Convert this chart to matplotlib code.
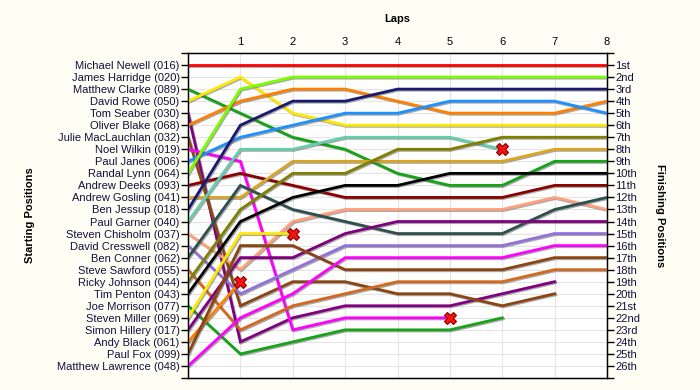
import matplotlib.pyplot as plt
import matplotlib.patheffects as pe

# pilotos en orden de salida (posicion 1..26)
pilotos = [
    "Michael Newell (016)", "James Harridge (020)", "Matthew Clarke (089)",
    "David Rowe (050)", "Tom Seaber (030)", "Oliver Blake (068)",
    "Julie MacLauchlan (032)", "Noel Wilkin (019)", "Paul Janes (006)",
    "Randal Lynn (064)", "Andrew Deeks (093)", "Andrew Gosling (041)",
    "Ben Jessup (018)", "Paul Garner (040)", "Steven Chisholm (037)",
    "David Cresswell (082)", "Ben Conner (062)", "Steve Sawford (055)",
    "Ricky Johnson (044)", "Tim Penton (043)", "Joe Morrison (077)",
    "Steven Miller (069)", "Simon Hillery (017)", "Andy Black (061)",
    "Paul Fox (099)", "Matthew Lawrence (048)",
]

# posicion en cada vuelta (vuelta 0 = salida); lista vacia = no tomo la salida
posiciones = [
    [1, 1, 1, 1, 1, 1, 1, 1, 1],
    [],
    [3, 5, 7, 8, 10, 11, 11, 9, 9],
    [4, 2, 5, 6, 6, 6, 6, 6, 6],
    [5, 24, 22, 21, 21, 21, 20, 19],
    [6, 4, 3, 3, 4, 5, 5, 5, 4],
    [7, 21, 19, 19, 20, 20, 21, 20],
    [8, 9, 23, 22, 22, 22],
    [9, 7, 6, 5, 5, 4, 4, 4, 5],
    [10, 3, 2, 2, 2, 2, 2, 2, 2],
    [11, 10, 11, 12, 12, 12, 12, 11, 11],
    [12, 12, 9, 9, 9, 9, 9, 8, 8],
    [13, 6, 4, 4, 3, 3, 3, 3, 3],
    [14, 8, 8, 7, 7, 7, 8],
    [15, 18, 14, 13, 13, 13, 13, 12, 13],
    [16, 20, 18, 16, 16, 16, 16, 15, 15],
    [17, 11, 13, 14, 15, 15, 15, 13, 12],
    [18, 23, 21, 20, 19, 19, 19, 18, 18],
    [19, 13, 10, 10, 8, 8, 7, 7, 7],
    [20, 14, 12, 11, 11, 10, 10, 10, 10],
    [21, 25, 24, 23, 23, 23, 22],
    [22, 15, 15],
    [23, 17, 17, 15, 14, 14, 14, 14, 14],
    [24, 19],
    [25, 16, 16, 18, 18, 18, 18, 17, 17],
    [26, 22, 20, 17, 17, 17, 17, 16, 16],
]

# abandonos (se marcan con una cruz roja en la ultima vuelta)
abandono = [False] * 26
for i in (7, 13, 21, 23):
    abandono[i] = True

colores = [
    "#ff0000", "#000000", "#17a317", "#ffe800", "#800080", "#ff7f00",
    "#8b4513", "#ff00ff", "#1e90ff", "#7cfc00", "#8b0000", "#daa520",
    "#191970", "#66cdaa", "#ffa07a", "#9370db", "#2f4f4f", "#d2691e",
    "#808000", "#000000", "#17a317", "#ffe800", "#800080", "#ff7f00",
    "#8b4513", "#ff00ff",
]

vueltas = list(range(0, 9))
puestos = ["1st", "2nd", "3rd"] + [f"{n}th" for n in range(4, 21)] + \
    ["21st", "22nd", "23rd", "24th", "25th", "26th"]

plt.rcParams["font.family"] = ["Liberation Sans", "DejaVu Sans"]
fondo = "#fffef5"

fig = plt.figure(figsize=(7, 3.9), dpi=100, facecolor=fondo)
ax = fig.add_axes([188 / 700, 1 - 378 / 390, 419 / 700, 325 / 390])
ax.set_facecolor("white")

sombra = [pe.SimpleLineShadow(offset=(0.8, -0.8), shadow_color="#555555", alpha=0.5), pe.Normal()]

for pos, col, ab in zip(posiciones, colores, abandono):
    if not pos:
        continue
    x = vueltas[:len(pos)]
    ax.plot(x, pos, color=col, lw=2, solid_joinstyle="miter", path_effects=sombra, zorder=3)
    if ab:
        ax.plot(x[-1], pos[-1], marker="X", ms=9, mfc="#ff1010", mec="#800000", mew=0.8, zorder=5)

ax.set_xlim(0, 8)
ax.set_ylim(27, 0)

# eje x arriba
ax.xaxis.tick_top()
ax.set_xticks(vueltas)
ax.set_xticklabels([""] + [str(v) for v in vueltas[1:]], fontsize=8)
ax.tick_params(axis="x", length=0, pad=4)
ax.set_xlabel("Laps", fontsize=8, fontweight="bold", labelpad=11)
ax.xaxis.set_label_position("top")

# eje y izquierdo
ax.set_yticks(range(0, 28))
ax.set_yticklabels([""] + pilotos + [""], fontsize=8, color="#101040")
ax.tick_params(axis="y", length=5, width=1, pad=1)
ax.set_ylabel("Starting Positions", fontsize=8, fontweight="bold", labelpad=16)

ax.grid(True, color="#e4e4e4", lw=0.8, zorder=0)
ax.set_axisbelow(True)
for s in ax.spines.values():
    s.set_linewidth(1)

# eje y derecho
ax2 = ax.twinx()
ax2.set_ylim(27, 0)
ax2.set_yticks(range(0, 28))
ax2.set_yticklabels([""] + puestos + [""], fontsize=8, color="#101040")
ax2.tick_params(axis="y", length=5, width=1, pad=1)
ax2.set_ylabel("Finishing Positions", fontsize=8, fontweight="bold", rotation=-90, labelpad=18)

fig.savefig("out.png", dpi=100, facecolor=fondo)
